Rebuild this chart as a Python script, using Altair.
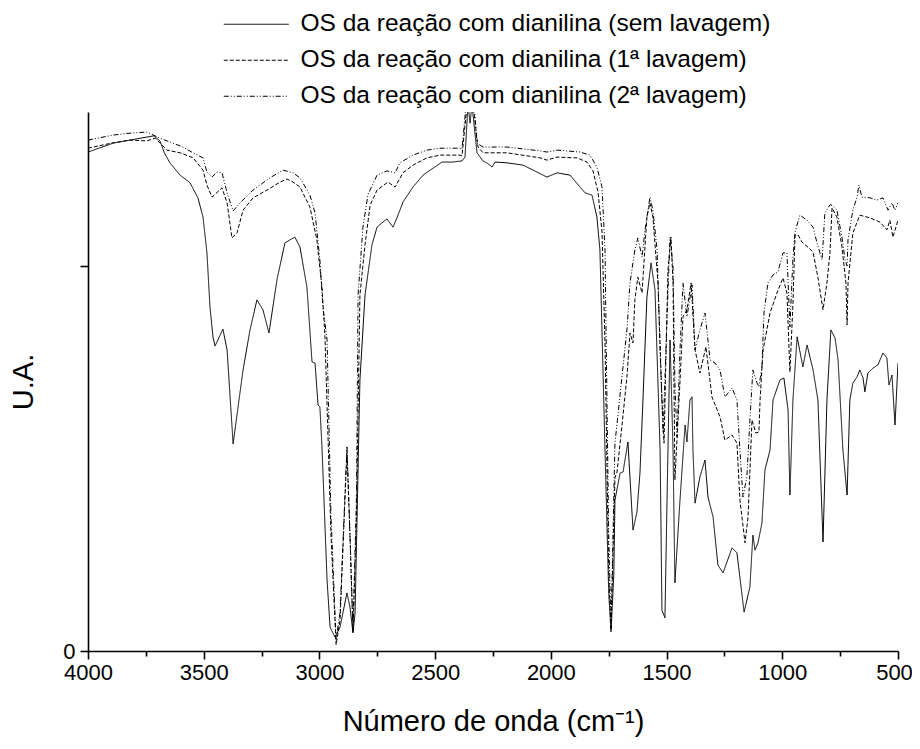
import altair as alt
import pandas as pd

# ---- data ----
series_names = [
    "OS da reação com dianilina (sem lavagem)",
    "OS da reação com dianilina (1ª lavagem)",
    "OS da reação com dianilina (2ª lavagem)",
]

wn_sem = [4000, 3892, 3819, 3745, 3715, 3689, 3670, 3646, 3602, 3559, 3525, 3503, 3486, 3473, 3460, 3451,
          3417, 3399, 3373, 3330, 3300, 3270, 3244, 3218, 3183, 3149, 3127, 3106, 3084, 3054, 3032, 3019,
          3006, 2998, 2989, 2967, 2954, 2933, 2911, 2881, 2868, 2855, 2846, 2825, 2803, 2773, 2751, 2730,
          2708, 2682, 2665, 2639, 2596, 2552, 2522, 2470, 2423, 2384, 2371, 2358, 2349, 2341, 2319, 2293,
          2272, 2254, 2241, 2190, 2120, 2060, 2017, 1973, 1917, 1874, 1852, 1822, 1801, 1788, 1766, 1750,
          1740, 1728, 1723, 1701, 1688, 1667, 1645, 1628, 1615, 1602, 1585, 1567, 1550, 1528, 1520, 1507,
          1498, 1485, 1472, 1464, 1442, 1420, 1412, 1399, 1390, 1386, 1377, 1356, 1334, 1321, 1299, 1278,
          1256, 1217, 1196, 1165, 1140, 1127, 1118, 1105, 1088, 1075, 1053, 1040, 1010, 993, 975, 967,
          954, 936, 911, 893, 867, 846, 824, 807, 790, 772, 759, 738, 720, 708, 695, 677, 665, 651, 643,
          630, 608, 587, 565, 548, 539, 526, 513, 500]
y_sem = [1.296, 1.319, 1.327, 1.335, 1.338, 1.325, 1.294, 1.268, 1.236, 1.216, 1.177, 1.127, 1.034, 0.894, 0.816, 0.792,
         0.836, 0.782, 0.538, 0.730, 0.834, 0.912, 0.886, 0.826, 0.966, 1.060, 1.068, 1.075, 1.049, 0.945, 0.751, 0.748,
         0.639, 0.634, 0.530, 0.184, 0.062, 0.036, 0.062, 0.151, 0.114, 0.047, 0.099, 0.704, 0.925, 1.055, 1.101, 1.112,
         1.122, 1.101, 1.125, 1.166, 1.205, 1.236, 1.249, 1.270, 1.270, 1.273, 1.283, 1.420, 1.371, 1.420, 1.294, 1.273,
         1.266, 1.257, 1.270, 1.268, 1.262, 1.244, 1.231, 1.242, 1.236, 1.205, 1.190, 1.184, 1.127, 1.042, 0.522, 0.150,
         0.050, 0.200, 0.392, 0.462, 0.465, 0.543, 0.314, 0.361, 0.462, 0.652, 0.919, 1.008, 0.938, 0.522, 0.106, 0.086,
         0.392, 0.808, 0.522, 0.177, 0.392, 0.587, 0.543, 0.652, 0.660, 0.522, 0.384, 0.452, 0.496, 0.400, 0.348, 0.223,
         0.203, 0.268, 0.255, 0.101, 0.166, 0.301, 0.262, 0.281, 0.332, 0.470, 0.522, 0.652, 0.704, 0.709, 0.626, 0.405,
         0.652, 0.816, 0.738, 0.795, 0.730, 0.652, 0.283, 0.652, 0.834, 0.813, 0.756, 0.522, 0.405, 0.652, 0.696, 0.712, 0.730, 0.709, 0.673,
         0.722, 0.735, 0.743, 0.774, 0.761, 0.691, 0.717, 0.587, 0.748]

wn_lav1 = [4000, 3892, 3819, 3745, 3710, 3659, 3602, 3546, 3503, 3486, 3464, 3421, 3399, 3378, 3356, 3330,
           3287, 3227, 3170, 3140, 3114, 3084, 3041, 3011, 2989, 2976, 2950, 2928, 2911, 2881, 2868, 2855,
           2840, 2825, 2803, 2781, 2751, 2704, 2673, 2639, 2596, 2535, 2479, 2393, 2384, 2362, 2336, 2315,
           2293, 2190, 2047, 2017, 1973, 1904, 1887, 1844, 1818, 1796, 1779, 1766, 1750, 1740, 1723, 1714,
           1693, 1671, 1658, 1645, 1637, 1624, 1606, 1585, 1572, 1559, 1537, 1520, 1511, 1494, 1481, 1472,
           1464, 1442, 1429, 1412, 1394, 1377, 1356, 1330, 1304, 1269, 1248, 1217, 1196, 1183, 1161, 1148,
           1131, 1114, 1101, 1096, 1083, 1053, 1023, 997, 980, 967, 954, 945, 932, 915, 889, 867, 846, 824,
           807, 794, 785, 764, 742, 725, 720, 716, 695, 665, 621, 578, 548, 535, 522, 500]
y_lav1 = [1.306, 1.320, 1.327, 1.325, 1.332, 1.301, 1.294, 1.281, 1.249, 1.210, 1.179, 1.203, 1.164, 1.073, 1.086, 1.145,
          1.177, 1.197, 1.218, 1.226, 1.218, 1.205, 1.153, 1.068, 0.945, 0.816, 0.300, 0.016, 0.080, 0.522, 0.300, 0.049,
          0.350, 0.925, 1.055, 1.158, 1.197, 1.218, 1.205, 1.242, 1.262, 1.281, 1.288, 1.288, 1.286, 1.420, 1.420, 1.309,
          1.294, 1.294, 1.281, 1.275, 1.283, 1.281, 1.281, 1.270, 1.247, 1.192, 1.088, 0.800, 0.200, 0.055, 0.450, 0.465,
          0.584, 0.714, 0.826, 0.800, 0.912, 0.971, 0.930, 1.127, 1.164, 1.127, 0.956, 0.652, 0.540, 0.990, 1.075, 0.956,
          0.444, 0.700, 0.868, 0.886, 0.956, 0.782, 0.722, 0.790, 0.660, 0.608, 0.548, 0.561, 0.540, 0.392, 0.281, 0.348,
          0.600, 0.566, 0.569, 0.652, 0.782, 0.878, 0.930, 0.969, 0.930, 0.725, 0.900, 1.080, 1.081, 1.062, 1.049, 1.036, 0.970, 0.886,
          0.956, 1.034, 1.151, 1.127, 1.049, 0.956, 0.847, 0.956, 1.086, 1.132, 1.125, 1.114, 1.094, 1.119, 1.075, 1.119]

wn_lav2 = [4000, 3892, 3819, 3745, 3689, 3633, 3590, 3546, 3503, 3486, 3464, 3443, 3421, 3399, 3373, 3343,
           3287, 3214, 3157, 3114, 3084, 3041, 3019, 2998, 2985, 2967, 2950, 2928, 2911, 2881, 2868, 2855,
           2840, 2833, 2812, 2790, 2751, 2708, 2673, 2652, 2596, 2535, 2479, 2393, 2384, 2366, 2332, 2319,
           2293, 2190, 2047, 2017, 1973, 1874, 1831, 1801, 1779, 1766, 1750, 1740, 1723, 1671, 1658, 1637,
           1624, 1606, 1593, 1572, 1559, 1541, 1528, 1515, 1498, 1485, 1472, 1464, 1455, 1442, 1429, 1412,
           1390, 1377, 1356, 1334, 1312, 1291, 1269, 1248, 1217, 1196, 1183, 1170, 1153, 1140, 1127, 1109,
           1101, 1088, 1079, 1062, 1040, 1019, 997, 980, 967, 954, 945, 924, 893, 867, 850, 828, 816, 794,
           785, 764, 742, 729, 720, 716, 695, 677, 669, 656, 621, 591, 565, 543, 526, 513, 500]
y_lav2 = [1.327, 1.340, 1.345, 1.348, 1.332, 1.319, 1.309, 1.294, 1.281, 1.244, 1.231, 1.244, 1.242, 1.190, 1.143, 1.164,
          1.197, 1.229, 1.249, 1.242, 1.229, 1.184, 1.138, 1.016, 0.894, 0.808, 0.350, 0.030, 0.100, 0.530, 0.300, 0.055,
          0.400, 0.925, 1.101, 1.186, 1.236, 1.247, 1.242, 1.268, 1.288, 1.301, 1.306, 1.306, 1.304, 1.420, 1.420, 1.319,
          1.309, 1.309, 1.299, 1.296, 1.301, 1.296, 1.288, 1.257, 1.205, 1.042, 0.300, 0.060, 0.540, 0.836, 0.956, 1.042,
          1.073, 1.023, 1.094, 1.179, 1.145, 1.042, 0.782, 0.566, 0.868, 1.075, 0.997, 0.696, 0.556, 0.782, 0.956, 0.868,
          0.951, 0.782, 0.834, 0.878, 0.756, 0.748, 0.730, 0.660, 0.683, 0.652, 0.522, 0.400, 0.452, 0.600, 0.730, 0.696,
          0.686, 0.738, 0.878, 0.956, 0.977, 0.984, 1.034, 1.034, 0.842, 1.020, 1.088, 1.132, 1.119, 1.101, 1.060, 1.016, 1.138, 1.159,
          1.158, 1.145, 1.075, 1.016, 1.000, 1.068, 1.145, 1.179, 1.210, 1.179, 1.177, 1.171, 1.177, 1.145, 1.164, 1.145, 1.164]

x_ticks = list(range(500, 4001, 250))
y_ticks = [0, 1]

rows = []
for name, wns, ys in zip(series_names, [wn_sem, wn_lav1, wn_lav2], [y_sem, y_lav1, y_lav2]):
    for i, (w, v) in enumerate(zip(wns, ys)):
        rows.append({"serie": name, "wn": w, "ua": v, "ordem": i})
df = pd.DataFrame(rows)

FONT = "Liberation Sans"

chart = alt.Chart(df).mark_line(color="black", strokeWidth=1, clip=True).encode(
    x=alt.X("wn:Q",
            scale=alt.Scale(domain=[500, 4000], reverse=True, nice=False, zero=False),
            axis=alt.Axis(values=x_ticks,
                          labelExpr="datum.value % 500 === 0 ? datum.value : ''",
                          labelFlush=False,
                          labelOffset={"condition": {"test": "datum.value === 500", "value": -4}, "value": 0},
                          tickSize={"condition": {"test": "datum.value % 500 === 0", "value": 8}, "value": 5},
                          title="Número de onda (cm⁻¹)")),
    y=alt.Y("ua:Q",
            scale=alt.Scale(domain=[0, 1.4], nice=False, zero=True),
            axis=alt.Axis(values=y_ticks,
                          labelExpr="datum.value === 0 ? '0' : ''",
                          title="U.A.")),
    strokeDash=alt.StrokeDash("serie:N",
                              scale=alt.Scale(domain=series_names,
                                              range=[[1, 0], [4, 2], [5, 2, 1, 2, 1, 2]]),
                              legend=alt.Legend(title=None, orient="none", legendX=156, legendY=-100,
                                                symbolType="M-4,0H4", symbolSize=264,
                                                symbolStrokeWidth=1, symbolStrokeColor="black",
                                                labelFont=FONT, labelFontSize=24.5, labelLimit=700,
                                                labelColor="black", rowPadding=11, labelOffset=32)),
    detail="serie:N",
    order="ordem:Q",
).properties(
    width=810, height=539,
    autosize=alt.AutoSizeParams(type="none"),
    padding={"left": 80, "top": 104, "right": 14, "bottom": 90},
).configure_view(stroke=None).configure_axis(
    domainColor="black", domainWidth=1.6, tickColor="black", tickWidth=1.6,
    grid=False, labelFont=FONT, labelFontSize=22, labelColor="black", labelPadding=3,
    titleFont=FONT, titleFontSize=29, titleFontWeight="normal", titleColor="black",
).configure_axisX(titlePadding=24).configure_axisY(titlePadding=24, tickSize=8, labelPadding=5)

chart.save("out.html", embed_options={"renderer": "svg", "actions": False})
